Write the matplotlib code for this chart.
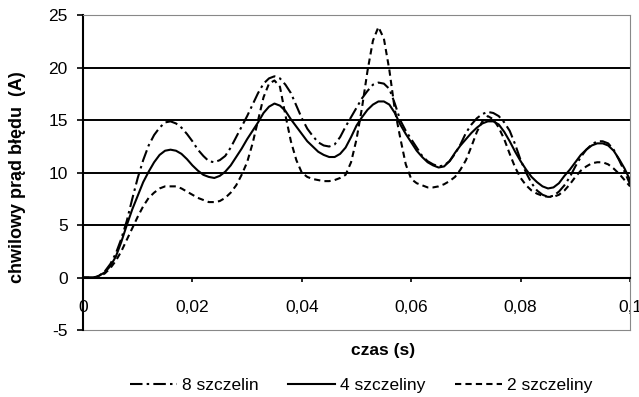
import matplotlib.pyplot as plt

plt.rcParams['font.family'] = ['Liberation Sans', 'DejaVu Sans']
plt.rcParams['axes.unicode_minus'] = False

# time samples in ms (every 1 ms)
time_ms = [0, 1, 2, 3, 4, 5, 6, 7, 8, 9,
           10, 11, 12, 13, 14, 15, 16, 17, 18, 19,
           20, 21, 22, 23, 24, 25, 26, 27, 28, 29,
           30, 31, 32, 33, 34, 35, 36, 37, 38, 39,
           40, 41, 42, 43, 44, 45, 46, 47, 48, 49,
           50, 51, 52, 53, 54, 55, 56, 57, 58, 59,
           60, 61, 62, 63, 64, 65, 66, 67, 68, 69,
           70, 71, 72, 73, 74, 75, 76, 77, 78, 79,
           80, 81, 82, 83, 84, 85, 86, 87, 88, 89,
           90, 91, 92, 93, 94, 95, 96, 97, 98, 99, 100]

# instantaneous fault current (A)
slots_8 = [0.0, 0.0, 0.0, 0.2, 0.6, 1.3, 2.3, 3.7, 5.4, 7.5,
           9.5, 11.2, 12.6, 13.6, 14.3, 14.8, 14.9, 14.7, 14.3, 13.7,
           13.0, 12.2, 11.6, 11.1, 11.0, 11.2, 11.6, 12.4, 13.4, 14.4,
           15.4, 16.5, 17.6, 18.5, 19.0, 19.2, 19.0, 18.4, 17.6, 16.4,
           15.2, 14.2, 13.5, 12.9, 12.6, 12.5, 12.7, 13.4, 14.4, 15.3,
           16.2, 17.1, 17.8, 18.4, 18.6, 18.5, 18.0, 16.6, 15.0, 14.0,
           13.2, 12.4, 11.6, 11.1, 10.8, 10.6, 10.7, 11.1, 11.8, 12.7,
           13.8, 14.6, 15.2, 15.6, 15.8, 15.7, 15.4, 14.8, 14.0, 12.7,
           11.2, 10.0, 9.0, 8.3, 7.9, 7.7, 7.8, 8.2, 8.8, 9.6,
           10.6, 11.5, 12.2, 12.7, 13.0, 13.0, 12.8, 12.2, 11.2, 10.1, 8.9]
slots_4 = [0.0, 0.0, 0.0, 0.2, 0.5, 1.1, 2.0, 3.4, 5.0, 6.5,
           7.8, 9.1, 10.1, 11.0, 11.7, 12.1, 12.2, 12.1, 11.8, 11.3,
           10.7, 10.2, 9.8, 9.6, 9.5, 9.7, 10.1, 10.7, 11.5, 12.3,
           13.2, 14.0, 14.8, 15.7, 16.3, 16.6, 16.4, 15.9, 15.1, 14.4,
           13.7, 13.0, 12.5, 12.0, 11.7, 11.5, 11.5, 11.8, 12.4, 13.4,
           14.5, 15.3, 16.0, 16.5, 16.8, 16.8, 16.5, 15.7, 14.6, 13.7,
           12.9, 12.1, 11.5, 11.0, 10.7, 10.5, 10.6, 11.1, 11.9, 12.6,
           13.2, 13.8, 14.3, 14.7, 14.9, 14.9, 14.6, 13.9, 13.0, 12.0,
           11.1, 10.3, 9.6, 9.1, 8.7, 8.5, 8.6, 9.0, 9.7, 10.3,
           11.0, 11.7, 12.2, 12.6, 12.8, 12.8, 12.6, 12.1, 11.3, 10.4, 9.3]
slots_2 = [0.0, 0.0, 0.0, 0.1, 0.4, 0.9, 1.6, 2.5, 3.6, 4.7,
           5.8, 6.8, 7.6, 8.1, 8.5, 8.7, 8.7, 8.7, 8.5, 8.2,
           7.9, 7.6, 7.4, 7.2, 7.2, 7.3, 7.6, 8.1, 8.8, 9.8,
           11.0, 12.8, 15.0, 17.2, 18.5, 18.8, 18.2, 15.5, 13.0, 11.2,
           10.0, 9.6, 9.4, 9.3, 9.2, 9.2, 9.3, 9.5, 9.8, 11.0,
           13.2, 16.2, 19.7, 22.6, 23.9, 22.8, 19.8, 16.0, 13.3, 10.8,
           9.4, 9.0, 8.8, 8.6, 8.6, 8.7, 8.9, 9.2, 9.6, 10.3,
           11.2, 12.5, 13.9, 14.9, 15.4, 15.1, 14.3, 13.2, 11.8, 10.5,
           9.5, 8.8, 8.3, 8.0, 7.8, 7.7, 7.7, 7.9, 8.3, 8.9,
           9.6, 10.2, 10.6, 10.9, 11.0, 11.0, 10.8, 10.4, 9.9, 9.3, 8.7]

x_ticks = [0, 0.02, 0.04, 0.06, 0.08, 0.1]
x_tick_labels = ['0', '0,02', '0,04', '0,06', '0,08', '0,1']
y_ticks = [-5, 0, 5, 10, 15, 20, 25]
grid_levels = [5, 10, 15, 20, 25]

t = [v / 1000 for v in time_ms]

fig = plt.figure(figsize=(6.39, 3.97), dpi=100)
ax = fig.add_axes([0.1299, 0.1688, 0.8561, 0.7922])

for lvl in grid_levels:
    ax.axhline(lvl, color='black', lw=1.4, zorder=1)
ax.axhline(-5, color='#888888', lw=0.8, clip_on=False, zorder=1)

ax.plot(t, slots_8, color='black', lw=1.5, dashes=(6, 2, 1.2, 2),
        label='8 szczelin', zorder=3)
ax.plot(t, slots_4, color='black', lw=1.5, label='4 szczeliny', zorder=3)
ax.plot(t, slots_2, color='black', lw=1.5, dashes=(3, 2),
        label='2 szczeliny', zorder=3)

ax.set_xlim(0, 0.1)
ax.set_ylim(-5, 25)

ax.spines['bottom'].set_position(('data', 0))
ax.spines['bottom'].set_linewidth(1.5)
ax.spines['left'].set_linewidth(1.5)
ax.spines['top'].set_color('#888888')
ax.spines['top'].set_linewidth(0.8)
ax.spines['right'].set_color('#888888')
ax.spines['right'].set_linewidth(0.8)

ax.set_xticks(x_ticks)
ax.set_xticklabels(x_tick_labels)
ax.set_yticks(y_ticks)
ax.tick_params(axis='x', direction='out', length=3, width=1.2, pad=13,
               labelsize=12.5)
ax.tick_params(axis='y', direction='out', length=4, width=1.2, pad=7,
               labelsize=12.5)

fig.text(0.6, 0.118, 'czas (s)', ha='center', va='center',
         fontsize=12.5, fontweight='bold')
fig.text(0.028, 0.555, 'chwilowy prąd błędu  (A)', ha='center', va='center',
         rotation=90, fontsize=13, fontweight='bold')

fig.legend(loc='center', bbox_to_anchor=(0.565, 0.03), ncol=3, frameon=False,
           fontsize=12.5, handlelength=2.7, handletextpad=0.3,
           columnspacing=1.7)

fig.savefig('out.png', dpi=100)
